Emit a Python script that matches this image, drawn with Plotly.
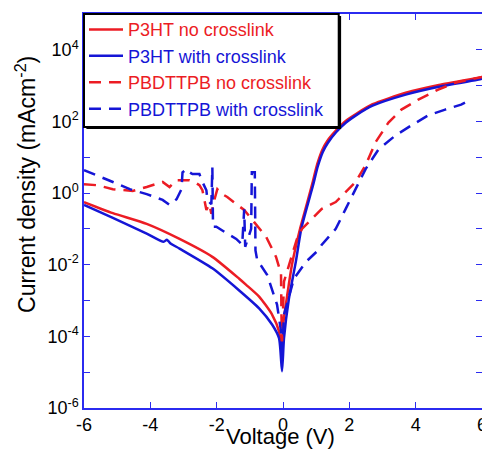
import plotly.graph_objects as go

# ---------------- data (current density in mA cm^-2 vs voltage in V) ----------------
v_p3ht_nc = [-6, -5.13, -4.11, -3.12, -2.13, -1.32, -1.11, -0.72, -0.33, -0.12, -0.06, -0.03,
             0.0, 0.12, 0.27, 0.5, 0.72, 0.88, 1.03, 1.18, 1.33, 1.6, 1.9, 2.2, 2.7, 3.7, 4.7, 5.9, 6.0]
j_p3ht_nc = [0.562, 0.275, 0.138, 0.0525, 0.0166, 0.00407, 0.00275, 0.00129, 4.07e-4, 1.38e-4, 5.0e-5, 2.5e-5,
             2.0e-4, 1.26e-3, 0.01, 0.0891, 0.501, 1.78, 6.31, 15.8, 28.2, 56.2, 105, 162, 302, 631, 1047, 1660, 1738]

v_p3ht_wc = [-6, -5.13, -4.11, -3.6, -3.5, -3.4, -3.12, -2.13, -1.32, -0.72, -0.33, -0.12, -0.03,
             0.03, 0.18, 0.39, 0.55, 0.75, 0.9, 1.05, 1.2, 1.35, 1.6, 1.9, 2.2, 2.7, 3.7, 4.7, 5.9, 6.0]
j_p3ht_wc = [0.468, 0.204, 0.0741, 0.0437, 0.0501, 0.0398, 0.0282, 0.00794, 0.00191, 6.03e-4, 2.14e-4, 8.9e-5, 1.07e-5,
             8.9e-5, 1.15e-3, 0.0126, 0.1, 0.501, 1.58, 5.62, 14.1, 25.1, 50.1, 93.3, 148, 275, 562, 933, 1479, 1549]

v_pbd_nc = [-6, -5.61, -5.13, -4.53, -4.11, -3.63, -3.42, -3.21, -2.82, -2.67, -2.52, -2.43, -2.37, -2.31,
            -2.22, -2.16, -2.07, -1.98, -1.83, -1.68, -1.41, -1.17, -0.87, -0.51, -0.21, -0.06, -0.045, -0.03,
            0.03, 0.18, 0.42, 0.57, 0.87, 1.17, 1.59, 1.89, 2.19, 2.49, 2.79, 3.18, 3.57, 4.08, 4.68, 5.19, 5.88, 6.0]
j_pbd_nc = [1.778, 1.66, 1.288, 1.148, 1.479, 2.042, 1.479, 2.291, 2.291, 2.042, 1.66, 1.202, 0.646, 0.339,
            0.49, 0.263, 0.646, 1.288, 0.933, 0.776, 0.49, 0.339, 0.155, 0.0603, 0.0166, 0.00562, 3.16e-4, 7.24e-5,
            3.39e-3, 0.01, 0.0525, 0.1, 0.19, 0.363, 0.562, 1.07, 2.04, 6.03, 26.3, 93.3, 214, 407, 776, 1202, 1660, 1738]

v_pbd_wc = [-6, -5.61, -5.13, -4.62, -4.11, -3.63, -3.42, -3.21, -3.06, -3.03, -2.91, -2.82, -2.73, -2.52,
            -2.43, -2.31, -2.28, -2.16, -2.13, -2.11, -2.01, -1.77, -1.41, -1.23, -1.17, -1.14, -0.96, -0.94,
            -0.85, -0.83, -0.78, -0.48, -0.18, -0.06, -0.03, 0.03, 0.33, 0.69, 1.08, 1.17, 1.59, 1.89, 2.19,
            2.49, 2.88, 3.39, 3.87, 4.38, 4.89, 5.37, 5.67]
j_pbd_wc = [4.365, 3.162, 2.042, 1.288, 0.933, 0.646, 0.468, 0.676, 1.288, 3.802, 4.677, 3.802, 3.388, 3.388,
            2.042, 1.202, 0.646, 0.49, 5.248, 0.115, 0.115, 0.0832, 0.0525, 0.0363, 0.355, 0.0316, 0.1, 3.802,
            3.802, 0.0251, 0.0138, 0.00525, 7.76e-4, 1.38e-4, 2.51e-5, 4.07e-4, 0.00407, 0.012, 0.0263, 0.0363,
            0.1, 0.363, 1.288, 4.677, 16.6, 40.7, 77.6, 148, 214, 295, 407]

series_names = ["P3HT no crosslink", "P3HT with crosslink", "PBDTTPB no crosslink", "PBDTTPB with crosslink"]

x_ticks = [-6, -4, -2, 0, 2, 4, 6]
x_tick_labels = ["-6", "-4", "-2", "0", "2", "4", "6"]
y_major_exp = [-6, -4, -2, 0, 2, 4]
y_minor_exp = [-5, -3, -1, 1, 3, 5]
y_tick_labels = ["10<sup>%d</sup>" % k for k in y_major_exp]

# ---------------- styling ----------------
RED = "#ec1c24"
BLUE = "#1515d6"
AXIS = "#2b2bf0"
FONT = "Liberation Sans, Arial, sans-serif"

fig = go.Figure()
specs = [
    (v_p3ht_nc, j_p3ht_nc, RED, "solid", "spline"),
    (v_p3ht_wc, j_p3ht_wc, BLUE, "solid", "spline"),
    (v_pbd_nc, j_pbd_nc, RED, "12px,8px", "linear"),
    (v_pbd_wc, j_pbd_wc, BLUE, "12px,8px", "linear"),
]
for (vx, jy, col, dash, shp), name in zip(specs, series_names):
    fig.add_trace(go.Scatter(
        x=vx, y=jy, mode="lines",
        name="<span style='color:%s'>%s</span>" % (col, name),
        line=dict(color=col, width=2.5, dash=dash, shape=shp, smoothing=0.6),
    ))

# the page body adds an 8px offset, so the figure is sized/margined to compensate
fig.update_layout(
    width=482, height=447,
    margin=dict(l=76, r=6, t=3, b=47),
    paper_bgcolor="white", plot_bgcolor="white",
    font=dict(family=FONT, size=18, color="black"),
    showlegend=True,
    legend=dict(x=0.0, y=1.007, xanchor="left", yanchor="top",
                bgcolor="rgba(0,0,0,0)", borderwidth=0,
                font=dict(family=FONT, size=18), itemwidth=34,
                tracegroupgap=0),
    shapes=[
        dict(type="rect", xref="paper", yref="paper", x0=0.006, x1=0.646, y0=0.708, y1=0.995,
             fillcolor="black", line=dict(width=0), layer="above"),
        dict(type="rect", xref="paper", yref="paper", x0=0.0, x1=0.64, y0=0.713, y1=1.0,
             fillcolor="white", line=dict(color="black", width=2), layer="above"),
    ],
    annotations=[
        dict(text="Voltage (V)", xref="paper", yref="paper", x=0.4925, y=-0.073,
             xanchor="center", yanchor="middle", showarrow=False,
             font=dict(family=FONT, size=22, color="black")),
        dict(text="Current density (mAcm<sup>-2</sup>)", xref="paper", yref="paper",
             x=-0.1475, y=0.567, textangle=-90, xanchor="center", yanchor="middle",
             showarrow=False, font=dict(family=FONT, size=23, color="black")),
    ],
)
fig.update_xaxes(range=[-6, 6], tickmode="array", tickvals=x_ticks, ticktext=x_tick_labels,
                 ticks="inside", ticklen=6, tickcolor=AXIS, tickwidth=1,
                 showline=True, linecolor=AXIS, linewidth=1.5, mirror="ticks",
                 showgrid=False, zeroline=False, tickfont=dict(family=FONT, size=18))
fig.update_yaxes(type="log", range=[-6, 5], tickmode="array",
                 tickvals=[10.0 ** k for k in y_major_exp], ticktext=y_tick_labels,
                 minor=dict(tickmode="array", tickvals=[10.0 ** k for k in y_minor_exp],
                            ticks="inside", ticklen=6, tickcolor=AXIS, tickwidth=1, showgrid=False),
                 ticks="inside", ticklen=6, tickcolor=AXIS, tickwidth=1,
                 showline=True, linecolor=AXIS, linewidth=1.5, mirror="ticks",
                 showgrid=False, zeroline=False, tickfont=dict(family=FONT, size=18))

fig.write_html("out.html")
